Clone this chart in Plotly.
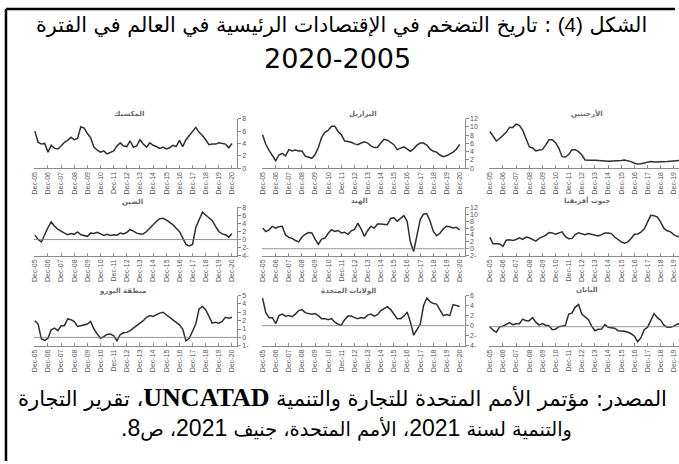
import plotly.graph_objects as go
import pandas as pd

W, H = 679, 464

# ---------------- data ----------------
dates = pd.date_range("2005-12-01", "2020-12-01", freq="3MS").strftime("%Y-%m-%d").tolist()
tick_years = list(range(2005, 2021))
tick_dates = [f"{y}-12-01" for y in tick_years]
tick_labels = [f"Dec-{y % 100:02d}" for y in tick_years]

mexico = [6.0, 4.2, 3.9, 4.0, 2.6, 3.7, 3.2, 3.1, 3.6, 4.2, 4.5, 5.0, 4.6, 4.8, 6.7, 6.5,
          5.6, 4.9, 3.4, 2.9, 2.6, 2.8, 2.3, 2.6, 2.8, 3.6, 4.1, 3.6, 3.5, 4.4, 3.4, 3.6,
          4.6, 3.9, 3.4, 4.1, 3.7, 3.5, 3.2, 3.4, 3.1, 3.3, 3.7, 3.5, 4.5, 3.5, 4.6, 5.3,
          6.0, 6.6, 5.8, 5.3, 4.6, 3.8, 3.9, 3.9, 4.1, 4.0, 3.9, 3.3, 4.0]
brazil = [8.1, 5.8, 4.3, 3.0, 1.8, 3.2, 3.6, 3.0, 4.5, 4.2, 4.4, 4.2, 4.2, 2.9, 2.7, 2.4,
          3.3, 5.0, 7.5, 8.7, 9.2, 10.2, 10.2, 8.9, 8.1, 6.6, 6.5, 6.3, 5.9, 5.7, 6.1, 6.4,
          6.1, 5.4, 5.0, 5.1, 6.1, 7.0, 6.8, 6.3, 5.7, 4.5, 4.8, 5.2, 4.7, 4.1, 4.7, 5.6,
          6.1, 6.1, 5.6, 4.6, 4.1, 3.9, 3.2, 2.8, 3.0, 3.4, 3.9, 4.6, 5.8]
argentina = [8.9, 7.7, 6.6, 7.2, 7.9, 8.7, 9.9, 9.9, 10.7, 10.4, 9.2, 7.3, 5.2, 4.9, 4.2, 4.4,
             4.5, 5.6, 6.9, 6.9, 6.2, 4.9, 2.8, 2.7, 3.3, 4.5, 4.5, 4.0, 3.2, 2.0, 1.9, 1.95,
             1.9, 1.8, 1.8, 1.75, 1.7, 1.7, 1.7, 1.8, 1.85, 2.0, 1.8, 1.6, 1.2, 1.0, 1.1, 1.3,
             1.5, 1.6, 1.5, 1.5, 1.5, 1.55, 1.6, 1.7, 1.8, 1.9, 2.0, 2.0, 2.0]
china = [1.1, 0.0, -0.6, 1.4, 3.0, 4.4, 3.3, 2.6, 2.0, 1.6, 1.2, 1.5, 1.3, 1.9, 1.2, 1.0,
         0.8, 1.6, 1.5, 1.8, 1.3, 1.0, 1.3, 1.0, 1.2, 1.1, 1.6, 1.4, 1.8, 2.5, 2.1, 1.6,
         1.4, 1.4, 2.0, 2.9, 3.7, 4.5, 5.2, 5.3, 4.9, 4.4, 3.7, 2.8, 2.0, 0.4, -1.2, -1.6,
         -1.2, 3.0, 5.0, 6.8, 6.1, 5.5, 4.7, 3.3, 2.0, 1.4, 1.2, 0.6, 1.5]
india = [6.0, 5.0, 5.5, 6.5, 6.0, 6.4, 6.5, 4.0, 3.3, 3.0, 2.4, 2.0, 3.4, 4.2, 4.7, 4.6,
         2.8, 1.3, 2.8, 3.1, 4.5, 5.5, 5.0, 5.3, 4.6, 4.8, 4.2, 5.2, 5.6, 7.4, 5.8, 3.6,
         5.3, 6.5, 6.0, 7.2, 7.2, 7.2, 7.0, 8.8, 9.0, 8.0, 8.8, 9.6, 8.0, 2.0, -0.8, 3.5,
         8.5, 10.0, 10.2, 8.0, 5.0, 3.8, 4.5, 5.8, 6.5, 6.4, 6.0, 6.2, 5.5]
south_africa = [3.3, 1.45, 1.45, 1.4, 0.7, 2.5, 2.6, 2.4, 2.7, 3.2, 2.7, 3.4, 3.2, 2.7, 2.2, 3.0,
                3.5, 3.9, 4.7, 4.6, 4.2, 4.6, 4.9, 3.5, 2.9, 3.0, 4.1, 4.6, 4.4, 4.1, 4.4, 4.2,
                3.8, 3.7, 4.1, 4.6, 4.6, 4.4, 3.4, 2.7, 2.0, 1.6, 2.0, 3.0, 4.2, 4.3, 4.8, 5.8,
                7.6, 9.7, 9.6, 9.2, 7.7, 5.9, 5.2, 4.9, 4.1, 3.6, 3.5, 3.5, 3.5]
euro = [2.0, 1.6, -0.2, -0.35, -0.1, 0.9, 1.1, 0.8, 1.4, 1.4, 2.2, 2.1, 1.9, 1.3, 1.4, 1.5,
        1.6, 1.9, 1.0, 0.4, -0.1, 0.1, 0.35, 0.4, 0.2, -0.4, 0.35, 0.55, 0.6, 0.8, 1.1, 1.3,
        1.7, 2.0, 2.4, 2.6, 2.5, 2.75, 2.9, 3.0, 2.7, 2.4, 2.0, 1.8, 1.5, 1.0, -0.4, -0.1,
        0.7, 1.6, 3.4, 3.7, 3.3, 2.5, 1.7, 1.8, 1.7, 1.9, 2.4, 2.3, 2.4]
usa = [5.5, 2.6, 1.6, 1.6, 0.4, 2.0, 2.3, 1.9, 2.0, 1.8, 2.3, 3.0, 3.2, 2.6, 2.4, 2.3,
       2.4, 2.0, 1.4, 1.4, 1.2, 1.4, 0.7, 0.3, 0.1, 1.2, 1.9, 1.9, 1.6, 1.4, 1.6, 1.5,
       2.1, 2.3, 1.9, 2.2, 3.0, 3.4, 3.8, 3.2, 2.2, 1.4, 1.4, 1.9, 2.7, 0.8, -1.9, -0.8,
       0.3, 3.9, 5.5, 4.8, 4.4, 4.3, 3.0, 2.0, 2.2, 2.0, 4.2, 4.0, 3.8]
japan = [0.0, -0.7, -1.1, 0.0, 0.1, 0.4, 0.8, 0.4, 0.6, 0.6, 1.5, 1.2, 1.2, 1.8, 0.9, 0.3,
         0.6, 0.3, 0.2, -0.6, -0.5, 0.0, 0.05, 0.25, 2.5, 2.7, 3.9, 4.4, 2.5, 2.0, 1.4, 0.1,
         -0.8, -0.5, -0.45, 0.4, -0.1, -0.2, -0.3, -0.8, -0.8, -0.9, -1.1, -1.4, -1.9, -3.0, -2.2, -0.6,
         -0.1, 1.1, 2.6, 1.8, 1.3, 0.3, -0.1, -0.1, 0.1, 0.5, 0.6, 0.5, 0.5]

panel_titles = ["المكسيك", "البرازيل", "الأرجنتين",
                "الصين", "الهند", "جنوب أفريقيا",
                "منطقة اليورو", "الولايات المتحدة", "اليابان"]
series = [mexico, brazil, argentina, china, india, south_africa, euro, usa, japan]
y_ranges = [(0, 8), (0, 12), (0, 12),
            (-4, 8), (-2, 12), (-2, 12),
            (-1, 5), (-4, 6), (-3.8, 6.2)]
y_dticks = [2, 2, 2, 2, 2, 2, 1, 2, 2]
zero_lines = [False, False, False, True, True, False, True, True, True]

title_lines = ["الشكل (4) : تاريخ التضخم في الإقتصادات الرئيسية في العالم في الفترة", "2020-2005"]
source_line1_a = "المصدر: مؤتمر الأمم المتحدة للتجارة والتنمية "
source_line1_b = "UNCATAD"
source_line1_c = "، تقرير التجارة"
source_line2 = ["والتنمية لسنة ", "2021", "، الأمم المتحدة، جنيف ", "2021", "، ص", "8", "."]

# ---------------- layout geometry (pixels) ----------------
col_dom = [(31, 235), (259.7, 463.7), (488, 679)]
col_first = [32, 260.7, 489]          # pixel of Dec-05
px_per_year = 13.2
row_dom = [(116.5, 166.7), (206.5, 255.5), (296, 347)]
title_pos = [(127, 112), (362, 112), (587, 111),
             (130, 201), (358, 200), (587, 200),
             (120, 291), (347, 291), (587, 290)]


def fx(px):
    return px / W


def fy(py):
    return 1 - py / H


day_per_px = 365.25 / px_per_year
dec05 = pd.Timestamp("2005-12-01")

fig = go.Figure()
LINE = "#2f2f2f"
AX = "#8a8a8a"
TXT = "#555555"

for k in range(9):
    r, c = divmod(k, 3)
    n = k + 1
    sfx = str(n) if n > 1 else ""
    x0p, x1p = col_dom[c]
    start = dec05 - pd.Timedelta(days=(col_first[c] - x0p) * day_per_px)
    end = start + pd.Timedelta(days=(x1p - x0p) * day_per_px)
    yb, yt = row_dom[r]
    lo, hi = y_ranges[k]
    tvals = tick_dates if c < 2 else tick_dates[:-1]
    ttext = tick_labels if c < 2 else tick_labels[:-1]

    fig.add_trace(go.Scatter(x=dates, y=series[k], mode="lines",
                             line=dict(color=LINE, width=1.5),
                             xaxis="x" + sfx, yaxis="y" + sfx,
                             showlegend=False, hoverinfo="skip"))
    fig.layout["xaxis" + sfx] = dict(domain=[fx(x0p), fx(x1p)], range=[start, end], type="date",
                                     anchor="y" + sfx,
                                     showline=True, linecolor=AX, linewidth=1, showgrid=False,
                                     zeroline=False, ticks="inside", ticklen=3, tickcolor=AX,
                                     tickvals=tvals, ticktext=ttext, tickangle=-90,
                                     tickfont=dict(size=7, color=TXT,
                                                   family="Liberation Sans Narrow, Liberation Sans, Arial"))
    show_y = c < 2
    tv = []
    v = lo
    while v <= hi + 1e-9:
        tv.append(round(v, 3))
        v += y_dticks[k]
    tt = [(f"{abs(t):g}-" if t < 0 else f"{t:g}") for t in tv]
    fig.layout["yaxis" + sfx] = dict(domain=[fy(yt), fy(yb)], range=[lo, hi],
                                     anchor="x" + sfx, side="right",
                                     showline=show_y, linecolor=AX, linewidth=1, showgrid=False,
                                     zeroline=False, ticks="outside" if show_y else "", ticklen=3,
                                     tickcolor=AX, showticklabels=show_y,
                                     tickvals=tv, ticktext=tt,
                                     tickfont=dict(size=7, color=TXT,
                                                   family="Liberation Sans, Arial"))
    if zero_lines[k]:
        fig.add_shape(type="line", xref="x" + sfx, yref="y" + sfx,
                      x0=start, x1=end, y0=0, y1=0, line=dict(color="#7a7a7a", width=0.8))
    tx, ty = title_pos[k]
    fig.add_annotation(x=fx(tx), y=fy(ty), xref="paper", yref="paper",
                       text="<b>" + panel_titles[k] + "</b>", showarrow=False,
                       xanchor="center", yanchor="middle",
                       font=dict(size=7, color="#6a6a6a", family="DejaVu Sans"))

RLE, PDF = "\u202b", "\u202c"
AR = "DejaVu Sans"
LAT = "Liberation Sans"

# title
t1 = title_lines[0].replace("(4)", f'<span style="font-family:{LAT}">(4)</span>')
fig.add_annotation(x=fx(340), y=fy(21), xref="paper", yref="paper", showarrow=False,
                   text=RLE + t1 + PDF, xanchor="center", yanchor="middle",
                   font=dict(size=20.7, color="black", family=AR))
fig.add_annotation(x=fx(336), y=fy(55), xref="paper", yref="paper", showarrow=False,
                   text=title_lines[1], xanchor="center", yanchor="middle",
                   font=dict(size=27, color="black", family="DejaVu Sans"))

# source
s1 = (RLE + source_line1_a +
      f'<span style="font-family:Liberation Serif;font-size:26px;font-weight:bold">{source_line1_b}</span>'
      + source_line1_c + PDF)
fig.add_annotation(x=fx(341), y=fy(400), xref="paper", yref="paper", showarrow=False,
                   text=s1, xanchor="center", yanchor="middle",
                   font=dict(size=21, color="black", family=AR))
parts = []
for p in source_line2:
    if p.isdigit() or p == ".":
        parts.append(f'<span style="font-family:{LAT};font-size:23px">{p}</span>')
    else:
        parts.append(p)
fig.add_annotation(x=fx(345), y=fy(431), xref="paper", yref="paper", showarrow=False,
                   text=RLE + "".join(parts) + PDF, xanchor="center", yanchor="middle",
                   font=dict(size=19.4, color="black", family=AR))

# border (left + top)
fig.add_shape(type="line", xref="paper", yref="paper", x0=fx(3), x1=fx(675), y0=fy(5), y1=fy(5),
              line=dict(color="black", width=2.5))
fig.add_shape(type="line", xref="paper", yref="paper", x0=fx(3), x1=fx(3), y0=fy(5), y1=fy(464),
              line=dict(color="black", width=2.5))

fig.update_layout(width=W, height=H, margin=dict(l=0, r=0, t=0, b=0),
                  paper_bgcolor="white", plot_bgcolor="white", hovermode=False)
fig.write_html("out.html", config={"displayModeBar": False, "staticPlot": True},
               post_script="document.body.style.margin='0';")
